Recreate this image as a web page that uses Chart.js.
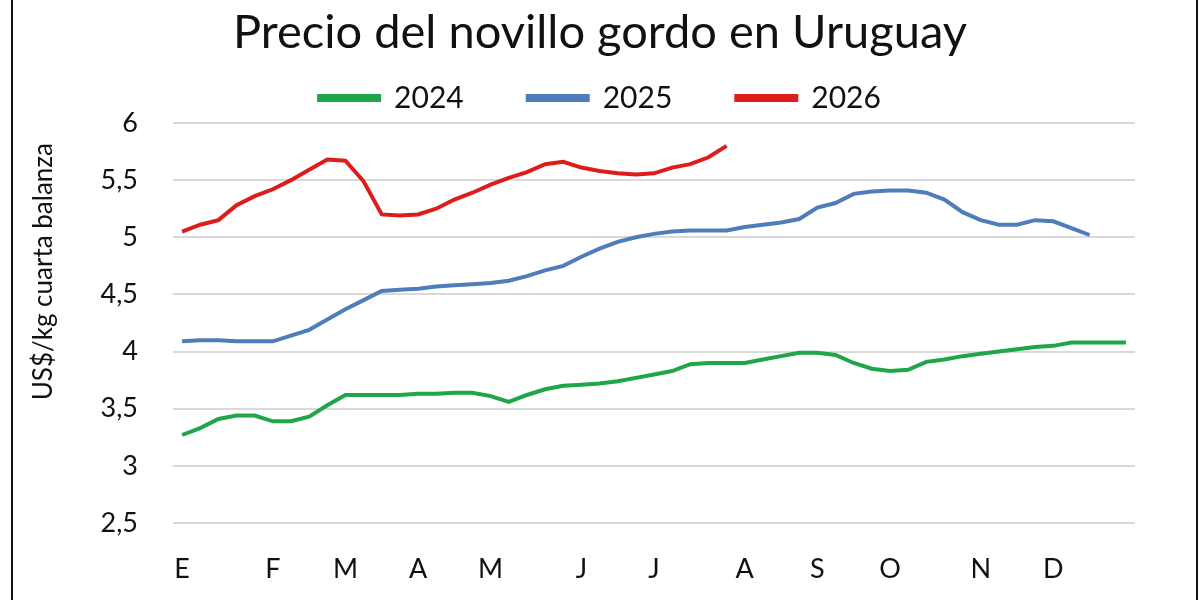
<!DOCTYPE html>
<html>
<head>
<meta charset="utf-8">
<script src="https://cdn.jsdelivr.net/npm/chart.js@4.4.1/dist/chart.umd.min.js"></script>
<style>
    html, body { margin: 0; padding: 0; background: #fff; }
    #wrap { position: relative; width: 1200px; height: 600px; }
    #chart { position: absolute; left: 0; top: 0; }
    /* marco negro a los lados, como en la captura original */
    #frame {
        position: absolute; left: 11px; top: 0; width: 1183px; height: 600px;
        border-left: 2px solid #111; border-right: 2px solid #111;
        pointer-events: none;
    }
</style>
</head>
<body>
<div id="wrap">
    <canvas id="chart" width="1200" height="600"></canvas>
    <div id="frame"></div>
</div>
<script>
// Datos semanales (53 semanas), US$/kg cuarta balanza
const monthLetters = ["E", "F", "M", "A", "M", "J", "J", "A", "S", "O", "N", "D"];
const monthStartWeek = [0, 5, 9, 13, 17, 22, 26, 31, 35, 39, 44, 48];

const price2024 = [
    3.27, 3.33, 3.41, 3.44, 3.44, 3.39, 3.39, 3.43, 3.53, 3.62,
    3.62, 3.62, 3.62, 3.63, 3.63, 3.64, 3.64, 3.61, 3.56, 3.62,
    3.67, 3.70, 3.71, 3.72, 3.74, 3.77, 3.80, 3.83, 3.89, 3.90,
    3.90, 3.90, 3.93, 3.96, 3.99, 3.99, 3.97, 3.90, 3.85, 3.83,
    3.84, 3.91, 3.93, 3.96, 3.98, 4.00, 4.02, 4.04, 4.05, 4.08,
    4.08, 4.08, 4.08
];

const price2025 = [
    4.09, 4.10, 4.10, 4.09, 4.09, 4.09, 4.14, 4.19, 4.28, 4.37,
    4.45, 4.53, 4.54, 4.55, 4.57, 4.58, 4.59, 4.60, 4.62, 4.66,
    4.71, 4.75, 4.83, 4.90, 4.96, 5.00, 5.03, 5.05, 5.06, 5.06,
    5.06, 5.09, 5.11, 5.13, 5.16, 5.26, 5.30, 5.38, 5.40, 5.41,
    5.41, 5.39, 5.33, 5.22, 5.15, 5.11, 5.11, 5.15, 5.14, 5.08,
    5.02
];

const price2026 = [
    5.05, 5.11, 5.15, 5.28, 5.36, 5.42, 5.50, 5.59, 5.68, 5.67,
    5.49, 5.20, 5.19, 5.20, 5.25, 5.33, 5.39, 5.46, 5.52, 5.57,
    5.64, 5.66, 5.61, 5.58, 5.56, 5.55, 5.56, 5.61, 5.64, 5.70,
    5.80
];

const yTicks = [2.5, 3, 3.5, 4, 4.5, 5, 5.5, 6];

// etiquetas del eje x: solo la inicial del mes en su semana
const weekLabels = new Array(53).fill("");
monthStartWeek.forEach((w, i) => { weekLabels[w] = monthLetters[i]; });

const FONT = "Lato";
const TEXT = "#111";

function serie(label, data, color) {
    return {
        label: label,
        data: data,
        borderColor: color,
        backgroundColor: color,
        borderWidth: 4,
        pointRadius: 0,
        tension: 0,
        fill: false
    };
}

new Chart(document.getElementById("chart"), {
    type: "line",
    data: {
        labels: weekLabels,
        datasets: [
            serie("2024", price2024, "#1fa54a"),
            serie("2025", price2025, "#4f7cbb"),
            serie("2026", price2026, "#dd1c1c")
        ]
    },
    options: {
        responsive: false,
        animation: false,
        devicePixelRatio: 1,
        layout: { padding: 0 },
        plugins: {
            // alto del título recortado a mano para que la leyenda y el
            // área del gráfico queden donde están en el original
            title: {
                display: true,
                text: "Precio del novillo gordo en Uruguay",
                color: TEXT,
                font: { family: FONT, size: 47, weight: "normal" },
                padding: { top: 5, bottom: -42.4 }
            },
            legend: {
                labels: {
                    boxWidth: 60,
                    boxHeight: 4,
                    padding: 64,
                    color: TEXT,
                    font: { family: FONT, size: 30 }
                }
            },
            tooltip: { enabled: false }
        },
        scales: {
            x: {
                offset: true,
                grid: { display: false, drawTicks: false },
                border: { display: false },
                ticks: {
                    autoSkip: false,
                    maxRotation: 0,
                    padding: 30,
                    color: TEXT,
                    font: { family: FONT, size: 27 }
                },
                afterFit(scale) { scale.height = 77; }
            },
            y: {
                min: 2.5,
                max: 6,
                afterBuildTicks(scale) { scale.ticks = yTicks.map(v => ({ value: v })); },
                grid: { color: "#d9d9d9", lineWidth: 2, drawTicks: false },
                border: { display: false },
                ticks: {
                    padding: 35,
                    color: TEXT,
                    font: { family: FONT, size: 27 },
                    callback: v => String(v).replace(".", ",")
                },
                title: {
                    display: true,
                    text: "US$/kg cuarta balanza   ",
                    align: "end",
                    color: TEXT,
                    font: { family: FONT, size: 26 },
                    padding: { top: 28 }
                },
                afterFit(scale) { scale.width = 173; }
            },
            // eje vacío a la derecha para dejar el margen del original
            yRight: {
                position: "right",
                display: true,
                grid: { display: false },
                border: { display: false },
                ticks: { display: false },
                afterFit(scale) { scale.width = 65; }
            }
        }
    }
});
</script>
</body>
</html>
